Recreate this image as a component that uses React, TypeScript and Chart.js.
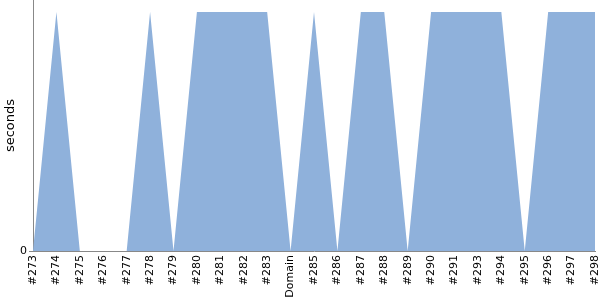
import React, { useEffect, useRef } from "react";
import { Chart, registerables } from "chart.js";

Chart.register(...registerables);

const categories = ["#273", "#274", "#275", "#276", "#277", "#278", "#279", "#280", "#281", "#282", "#283", "Domain", "#285", "#286", "#287", "#288", "#289", "#290", "#291", "#293", "#294", "#295", "#296", "#297", "#298"];
const seconds = [0, 1, 0, 0, 0, 1, 0, 1, 1, 1, 1, 0, 1, 0, 1, 1, 0, 1, 1, 1, 1, 0, 1, 1, 1];
const yTicks = [0];

const zeroPad = (s: any) => {
  s.paddingTop = 0;
  s.paddingBottom = 0;
  s.paddingLeft = 0;
  s.paddingRight = 0;
};

export default function App() {
  const ref = useRef<HTMLCanvasElement>(null);
  useEffect(() => {
    document.body.style.margin = "0";
    const chart = new Chart(ref.current!, {
      type: "line",
      data: {
        labels: categories,
        datasets: [
          {
            data: seconds,
            fill: "origin",
            backgroundColor: "rgb(143,177,219)",
            borderWidth: 0,
            pointRadius: 0,
            tension: 0,
          },
        ],
      },
      options: {
        animation: false,
        responsive: false,
        layout: { padding: { top: 0, right: 5, left: 0, bottom: 0 } },
        plugins: { legend: { display: false }, tooltip: { enabled: false } },
        scales: {
          x: {
            offset: false,
            grid: { display: false, drawTicks: false },
            border: { color: "#888", width: 1 },
            ticks: {
              minRotation: 90,
              maxRotation: 90,
              autoSkip: false,
              padding: 4,
              color: "#000",
              font: { family: "DejaVu Sans", size: 11 },
            },
            afterFit: (s: any) => {
              s.height = 49;
              zeroPad(s);
            },
          },
          y: {
            min: 0,
            max: 1.05,
            afterBuildTicks: (s: any) => {
              s.ticks = yTicks.map((v) => ({ value: v }));
            },
            grid: { drawOnChartArea: false, tickLength: 4, color: "#888" },
            border: { color: "#888", width: 1 },
            ticks: {
              padding: 2,
              color: "#000",
              font: { family: "DejaVu Sans", size: 11 },
            },
            title: {
              display: true,
              text: "seconds",
              color: "#000",
              font: { family: "DejaVu Sans", size: 13 },
              padding: { top: 3, bottom: 0 },
            },
            afterFit: (s: any) => {
              s.width = 33;
              zeroPad(s);
            },
          },
        },
      },
    });
    return () => chart.destroy();
  }, []);
  return (
    <div style={{ width: 600, height: 300 }}>
      <canvas ref={ref} width={600} height={300} style={{ display: "block" }} />
    </div>
  );
}
